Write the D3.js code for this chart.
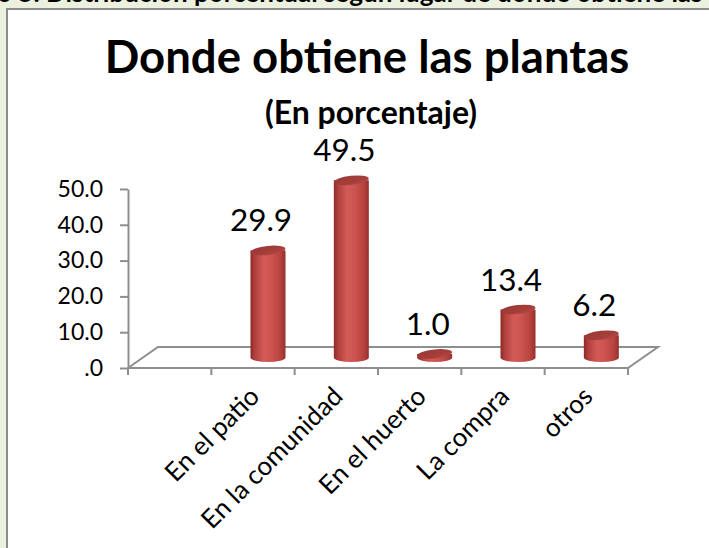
<!DOCTYPE html>
<html><head><meta charset="utf-8">
<script src="https://cdn.jsdelivr.net/npm/d3@7"></script>
<style>html,body{margin:0;padding:0;background:#EBF1DE;overflow:hidden}</style>
</head><body>
<script>
const categories = ["", "En el patio", "En la comunidad", "En el huerto", "La compra", "otros"];
const values = [null, 29.9, 49.5, 1.0, 13.4, 6.2];
const yTicks = [0, 10, 20, 30, 40, 50];
const yTickLabels = [".0", "10.0", "20.0", "30.0", "40.0", "50.0"];
const titleText = "Donde obtiene las plantas";
const subtitleText = "(En porcentaje)";
const captionText = "Gráfico 5. Distribución porcentual según lugar de donde obtiene las plantas";

const W = 709, H = 548;
const FONT = "Lato, 'Open Sans', sans-serif";
const svg = d3.select("body").append("svg").attr("width", W).attr("height", H);

svg.append("rect").attr("width", W).attr("height", H).attr("fill", "#EBF1DE");
svg.append("text").attr("x", 360).attr("y", 2).attr("text-anchor", "middle")
  .attr("font-family", FONT).attr("font-weight", "bold").attr("font-size", 26)
  .text(captionText);
svg.append("rect").attr("x", 7).attr("y", 9).attr("width", W + 20).attr("height", H + 20)
  .attr("fill", "#fff").attr("stroke", "#8C8C8C").attr("stroke-width", 2);

const defs = svg.append("defs");
const bodyGrad = defs.append("linearGradient").attr("id", "body").attr("x1", "0").attr("x2", "1").attr("y1", "0").attr("y2", "0");
[[0, "#8C2A28"], [0.12, "#B03F3B"], [0.38, "#D35B57"], [0.6, "#CD534F"], [0.85, "#B7433F"], [1, "#96302D"]]
  .forEach(([o, c]) => bodyGrad.append("stop").attr("offset", o).attr("stop-color", c));
const topGrad = defs.append("linearGradient").attr("id", "top").attr("x1", "0").attr("x2", "1").attr("y1", "0").attr("y2", "1");
[[0, "#9A3734"], [0.6, "#A43E3B"], [1, "#BA4B47"]]
  .forEach(([o, c]) => topGrad.append("stop").attr("offset", o).attr("stop-color", c));

const x = d3.scaleBand().domain(categories).range([128, 628]);
const y = d3.scaleLinear().domain([0, 50]).range([368, 189]);
const dx = 30, dy = -21;
const axisColor = "#8E8E8E";

// title
svg.append("text").attr("x", 367).attr("y", 73).attr("text-anchor", "middle")
  .attr("font-family", FONT).attr("font-weight", "bold").attr("font-size", 45.5).text(titleText);
svg.append("text").attr("x", 371).attr("y", 124).attr("text-anchor", "middle")
  .attr("font-family", FONT).attr("font-weight", "bold").attr("font-size", 32).text(subtitleText);

// floor
const x0 = x.range()[0], x1 = x.range()[1], y0 = y(0);
svg.append("path")
  .attr("d", d3.line()([[x0, y0], [x1, y0], [x1 + dx, y0 + dy], [x0 + dx, y0 + dy], [x0, y0]]))
  .attr("fill", "none").attr("stroke", axisColor).attr("stroke-width", 2);

// y axis
const yAxis = svg.append("g").attr("transform", `translate(${x0},0)`)
  .call(d3.axisLeft(y).tickValues(yTicks).tickSize(8).tickSizeOuter(0).tickPadding(17)
    .tickFormat((d, i) => yTickLabels[i]));
yAxis.select(".domain").attr("stroke", axisColor).attr("stroke-width", 2);
yAxis.selectAll(".tick line").attr("stroke", axisColor).attr("stroke-width", 2);
yAxis.selectAll(".tick text").attr("font-family", FONT).attr("font-size", 23).attr("fill", "#000");

// x ticks
const bounds = categories.map(c => x(c)).concat([x1]);
svg.append("g").selectAll("line").data(bounds).join("line")
  .attr("x1", d => d).attr("x2", d => d).attr("y1", y0).attr("y2", y0 + 7)
  .attr("stroke", axisColor).attr("stroke-width", 2);

// x labels
const bw = x.bandwidth();
svg.append("g").selectAll("text").data(categories.filter(c => c)).join("text")
  .attr("transform", c => `translate(${x(c) + bw / 2 + 8},${y0 + 30}) rotate(-45)`)
  .attr("text-anchor", "end").attr("font-family", FONT).attr("font-size", 26).attr("fill", "#000")
  .text(c => c);

// bars
const barData = categories.map((c, i) => ({ c, v: values[i] })).filter(d => d.v != null);
const rx = bw * 0.21, ry = 4.5;
const bars = svg.append("g").selectAll("g").data(barData).join("g");
bars.append("path").attr("fill", "url(#body)")
  .attr("d", d => {
    const cx = x(d.c) + bw / 2 + dx / 2, base = y0 + dy / 2, top = y(d.v) + dy / 2;
    return `M${cx - rx},${top} L${cx - rx},${base} A${rx},${ry} 0 0 0 ${cx + rx},${base} L${cx + rx},${top} Z`;
  });
bars.append("ellipse").attr("fill", "url(#top)")
  .attr("cx", d => x(d.c) + bw / 2 + dx / 2).attr("cy", d => y(d.v) + dy / 2)
  .attr("rx", rx).attr("ry", ry)
  .attr("transform", d => `rotate(-6,${x(d.c) + bw / 2 + dx / 2},${y(d.v) + dy / 2})`);
bars.append("text")
  .attr("x", d => x(d.c) + bw / 2 + dx / 2 - 7).attr("y", d => y(d.v) + dy / 2 - 19)
  .attr("text-anchor", "middle").attr("font-family", FONT).attr("font-size", 31.5).attr("fill", "#000")
  .text(d => d.v.toFixed(1));
</script>
</body></html>
